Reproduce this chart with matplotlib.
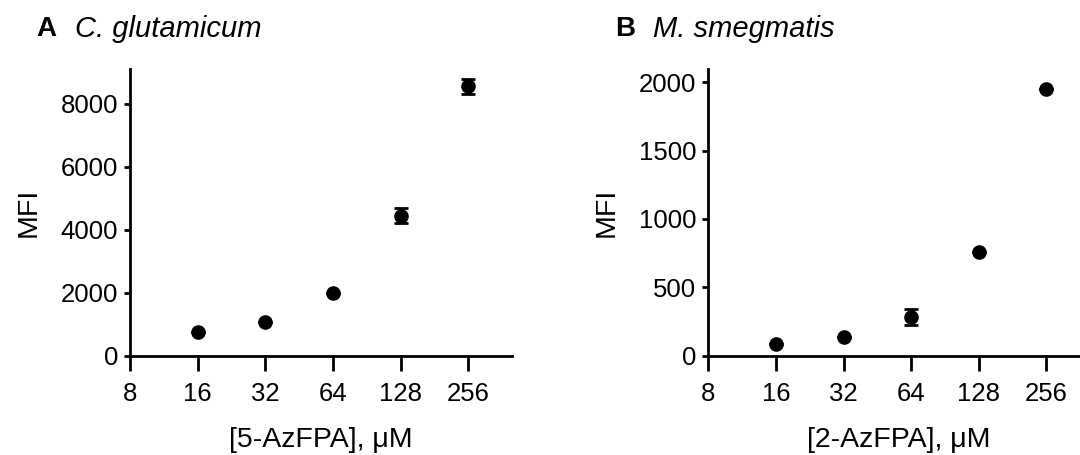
import matplotlib
matplotlib.use('Agg')
import matplotlib.pyplot as plt
from matplotlib.ticker import FixedLocator, NullLocator

plt.rcParams['font.family'] = ['Liberation Sans', 'DejaVu Sans']
plt.rcParams['font.size'] = 18.5

# concentrations (uM)
conc = [16, 32, 64, 128, 256]
x_ticks = [8, 16, 32, 64, 128, 256]

# C. glutamicum, 5-AzFPA
mfi_a = [742, 1068, 1978, 4450, 8558]
err_a = [0, 0, 0, 238, 238]

# M. smegmatis, 2-AzFPA
mfi_b = [86, 137, 281, 758, 1951]
err_b = [0, 0, 58, 0, 0]

fig = plt.figure(figsize=(10.8, 4.55), dpi=100)


def draw_panel(rect, y, err, yticks, ylim, xlabel, letter, species):
    ax = fig.add_axes(rect)
    ax.errorbar(conc, y, yerr=err, fmt='o', color='black', ms=9.5,
                elinewidth=2, capsize=5, capthick=2, clip_on=False)
    ax.set_xscale('log', base=2)
    ax.set_xlim(8, 400)
    ax.set_ylim(*ylim)
    ax.xaxis.set_major_locator(FixedLocator(x_ticks))
    ax.xaxis.set_minor_locator(NullLocator())
    ax.set_xticklabels([str(t) for t in x_ticks])
    ax.set_yticks(yticks)
    for s in ['top', 'right']:
        ax.spines[s].set_visible(False)
    for s in ['left', 'bottom']:
        ax.spines[s].set_linewidth(2)
    ax.tick_params(axis='x', length=11, width=2, pad=8)
    ax.tick_params(axis='y', length=4.5, width=2, pad=4)
    ax.set_xlabel(xlabel, fontsize=20.5, labelpad=15)
    ax.set_ylabel('MFI', fontsize=20.5, labelpad=14)
    ax.text(-0.245, 1.14, letter, transform=ax.transAxes, fontsize=20,
            fontweight='bold', va='center')
    ax.text(-0.145, 1.14, species, transform=ax.transAxes, fontsize=21,
            style='italic', va='center')
    return ax


draw_panel([0.1204, 0.2183, 0.3534, 0.6294], mfi_a, err_a,
           [0, 2000, 4000, 6000, 8000], (0, 9100),
           '[5-AzFPA], μM', 'A', 'C. glutamicum')
draw_panel([0.6558, 0.2183, 0.3534, 0.6294], mfi_b, err_b,
           [0, 500, 1000, 1500, 2000], (0, 2095),
           '[2-AzFPA], μM', 'B', 'M. smegmatis')

fig.savefig('out.png', dpi=100)
